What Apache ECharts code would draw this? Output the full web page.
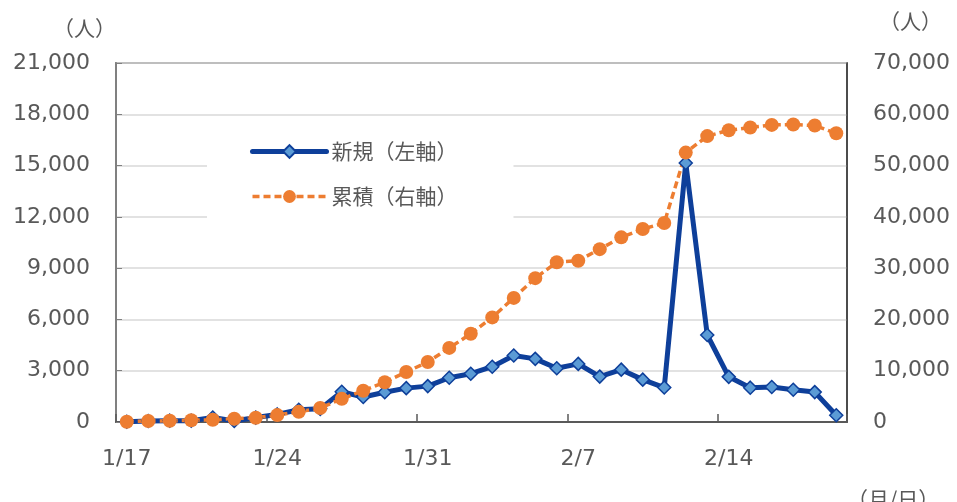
<!DOCTYPE html>
<html>
<head>
<meta charset="utf-8">
<script src="https://cdn.jsdelivr.net/npm/echarts@6/dist/echarts.min.js"></script>
<style>
html,body{margin:0;padding:0;background:#fff;}
#chart{width:957px;height:502px;}
</style>
</head>
<body>
<div id="chart"></div>
<script>
const categories = ['1/17','1/18','1/19','1/20','1/21','1/22','1/23','1/24','1/25','1/26','1/27','1/28','1/29','1/30','1/31',
  '2/1','2/2','2/3','2/4','2/5','2/6','2/7','2/8','2/9','2/10','2/11','2/12','2/13','2/14','2/15','2/16','2/17','2/18','2/19'];
const newCases = [17, 59, 77, 77, 260, 60, 259, 444, 720, 769, 1771, 1459, 1737, 1981, 2099,
  2589, 2825, 3235, 3887, 3694, 3143, 3399, 2656, 3062, 2478, 2015, 15152, 5090, 2641, 2009, 2048, 1886, 1749, 394];
const cumulative = [62, 200, 230, 330, 440, 640, 830, 1350, 1975, 2744, 4515, 6100, 7750, 9750, 11700,
  14450, 17200, 20400, 24200, 28050, 31160, 31450, 33700, 36000, 37626, 38800, 52526, 55748, 56873, 57416, 57934, 58016, 57805, 56303];
const leftAxis = {min: 0, max: 21000, interval: 3000};
const rightAxis = {min: 0, max: 70000, interval: 10000};
const seriesNames = ['新規（左軸）', '累積（右軸）'];

const chart = echarts.init(document.getElementById('chart'), null, {renderer: 'canvas'});
const labelFont = {fontFamily: 'DejaVu Sans', fontSize: 22, color: '#595959'};
const cjkFont = 'Noto Sans CJK JP';
chart.setOption({
  animation: false,
  backgroundColor: '#fff',
  grid: {left: 116, right: 110, top: 63, bottom: 80, show: true, borderColor: '#404040', borderWidth: 1.5},
  legend: {
    orient: 'vertical', left: 207, top: 125,
    backgroundColor: '#fff',
    padding: [16, 56, 17, 43],
    itemWidth: 74, itemHeight: 16, itemGap: 24,
    textStyle: {fontFamily: cjkFont, fontSize: 21, color: '#595959'},
    data: [
      {name: seriesNames[0], lineStyle: {width: 5, color: '#0e3f9a'}},
      {name: seriesNames[1], lineStyle: {width: 3.5, color: '#ed7d31', type: [7, 4]}}
    ]
  },
  xAxis: {
    type: 'category', data: categories, boundaryGap: true,
    axisLine: {lineStyle: {color: '#595959', width: 2}},
    axisTick: {show: true, inside: true, interval: 6, length: 8, lineStyle: {color: '#595959', width: 1.5}},
    axisLabel: Object.assign({interval: 6, margin: 26}, labelFont),
    splitLine: {show: false}
  },
  yAxis: [
    {
      type: 'value', min: leftAxis.min, max: leftAxis.max, interval: leftAxis.interval,
      axisLine: {show: true, lineStyle: {color: '#808080', width: 2}},
      axisTick: {show: true, inside: true, length: 6, lineStyle: {color: '#808080'}},
      axisLabel: Object.assign({margin: 26}, labelFont),
      splitLine: {lineStyle: {color: '#d9d9d9', width: 1.5}}
    },
    {
      type: 'value', position: 'right', min: rightAxis.min, max: rightAxis.max, interval: rightAxis.interval,
      axisLine: {show: true, lineStyle: {color: '#404040', width: 1.5}},
      axisTick: {show: false},
      axisLabel: Object.assign({margin: 26}, labelFont),
      splitLine: {show: false}
    }
  ],
  series: [
    {
      name: seriesNames[0], type: 'line', yAxisIndex: 0, data: newCases,
      symbol: 'diamond', symbolSize: 13,
      lineStyle: {color: '#0e3f9a', width: 5, cap: 'round', join: 'round'},
      itemStyle: {color: '#5b9bd5', borderColor: '#0e3f9a', borderWidth: 1.5}
    },
    {
      name: seriesNames[1], type: 'line', yAxisIndex: 1, data: cumulative,
      symbol: 'circle', symbolSize: 14,
      lineStyle: {color: '#ed7d31', width: 3.5, type: [7, 4]},
      itemStyle: {color: '#ed7d31', borderColor: '#ed7d31', borderWidth: 0}
    }
  ],
  graphic: [
    {type: 'text', left: 53, top: 18, style: {text: '（人）', font: '21px "' + cjkFont + '"', fill: '#595959'}},
    {type: 'text', left: 879, top: 11, style: {text: '（人）', font: '21px "' + cjkFont + '"', fill: '#595959'}},
    {type: 'text', left: 847, top: 489, style: {text: '（月/日）', font: '21px "' + cjkFont + '"', fill: '#595959'}}
  ]
});
</script>
</body>
</html>
